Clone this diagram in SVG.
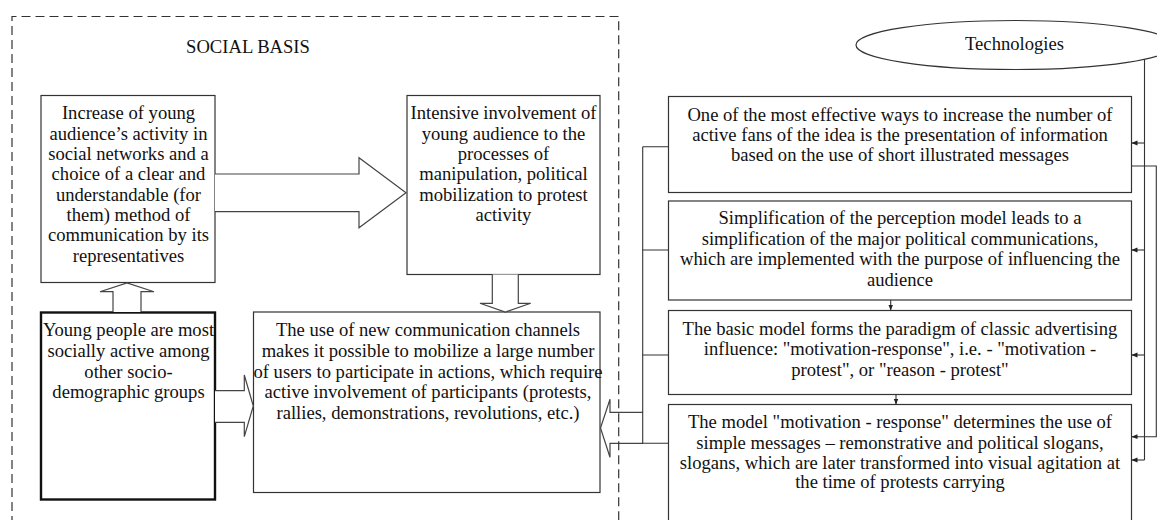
<svg xmlns="http://www.w3.org/2000/svg" width="1157" height="520" viewBox="0 0 1157 520">
<style>
.bg{fill:#ffffff}
.box{fill:#ffffff;stroke:#333333;stroke-width:1.2}
.thick{fill:#ffffff;stroke:#111111;stroke-width:2.4}
.dash{fill:none;stroke:#333333;stroke-width:1.2;stroke-dasharray:9 5}
.blk{fill:#ffffff;stroke:#444444;stroke-width:1.2;stroke-linejoin:miter}
.ln{fill:none;stroke:#333333;stroke-width:1.1}
.ar{fill:none;stroke:#333333;stroke-width:1.1;marker-end:url(#ah)}
text{font-family:"Liberation Serif","Times New Roman",serif;font-size:18.6px;fill:#111111}
.c{text-anchor:middle}
</style>
<defs>
<marker id="ah" viewBox="0 0 6 6" refX="6" refY="3" markerWidth="6" markerHeight="6" markerUnits="userSpaceOnUse" orient="auto">
<path d="M0,0.6 L6,3 L0,5.4 z" fill="#222222"/>
</marker>
</defs>
<rect class="bg" x="0" y="0" width="1157" height="520"/>

<g id="social-basis">
<text class="c" x="248" y="53">SOCIAL BASIS</text>
</g>

<g id="node-increase">
<rect class="box" x="41" y="95.5" width="174" height="187"/>
<text class="c" x="128.5" y="119">Increase of young</text>
<text class="c" x="128.5" y="139.5">audience’s activity in</text>
<text class="c" x="128.5" y="160">social networks and a</text>
<text class="c" x="128.5" y="180">choice of a clear and</text>
<text class="c" x="128.5" y="200.5">understandable (for</text>
<text class="c" x="128.5" y="221">them) method of</text>
<text class="c" x="128.5" y="241">communication by its</text>
<text class="c" x="128.5" y="261.5">representatives</text>
</g>

<g id="node-intensive">
<rect class="box" x="407" y="95.5" width="193" height="179"/>
<text class="c" x="503.5" y="119">Intensive involvement of</text>
<text class="c" x="503.5" y="139.5">young audience to the</text>
<text class="c" x="503.5" y="160">processes of</text>
<text class="c" x="503.5" y="180">manipulation, political</text>
<text class="c" x="503.5" y="200.5">mobilization to protest</text>
<text class="c" x="503.5" y="221">activity</text>
</g>

<g id="node-young">
<rect class="thick" x="41" y="312.5" width="174" height="187"/>
<text class="c" x="128.5" y="336">Young people are most</text>
<text class="c" x="128.5" y="357">socially active among</text>
<text class="c" x="128.5" y="378">other socio-</text>
<text class="c" x="128.5" y="398">demographic groups</text>
</g>

<g id="node-channels">
<rect class="box" x="253.5" y="312" width="346.5" height="180.5"/>
<text class="c" x="428" y="336">The use of new communication channels</text>
<text class="c" x="428" y="357">makes it possible to mobilize a large number</text>
<text class="c" x="428" y="378">of users to participate in actions, which require</text>
<text class="c" x="428" y="398">active involvement of participants (protests,</text>
<text class="c" x="428" y="419">rallies, demonstrations, revolutions, etc.)</text>
</g>

<g id="node-technologies">
<ellipse class="box" cx="1015" cy="45" rx="159" ry="24.5"/>
<text class="c" x="1014.5" y="50">Technologies</text>
</g>

<g id="node-effective">
<rect class="box" x="668.5" y="96.5" width="463" height="96"/>
<text class="c" x="900" y="120.5">One of the most effective ways to increase the number of</text>
<text class="c" x="900" y="140.5">active fans of the idea is the presentation of information</text>
<text class="c" x="900" y="161">based on the use of short illustrated messages</text>
</g>

<g id="node-simplification">
<rect class="box" x="668.5" y="201" width="463" height="99"/>
<text class="c" x="900" y="224">Simplification of the perception model leads to a</text>
<text class="c" x="900" y="245">simplification of the major political communications,</text>
<text class="c" x="900" y="265">which are implemented with the purpose of influencing the</text>
<text class="c" x="900" y="286">audience</text>
</g>

<g id="node-basic-model">
<rect class="box" x="668.5" y="310.5" width="463" height="84"/>
<text class="c" x="900" y="335">The basic model forms the paradigm of classic advertising</text>
<text class="c" x="900" y="355">influence: "motivation-response", i.e. - "motivation -</text>
<text class="c" x="900" y="375.5">protest", or "reason - protest"</text>
</g>

<g id="node-motivation-response">
<rect class="box" x="668.5" y="404.5" width="463" height="140"/>
<text class="c" x="900" y="428">The model "motivation - response" determines the use of</text>
<text class="c" x="900" y="449">simple messages – remonstrative and political slogans,</text>
<text class="c" x="900" y="469">slogans, which are later transformed into visual agitation at</text>
<text class="c" x="900" y="488">the time of protests carrying</text>
</g>

<g id="connectors">
<path class="blk" d="M215,174 H359 V157.7 L406,192.7 L359,227.7 V211.7 H215"/>
<path class="blk" d="M113,312 V291.7 H100 L127,283 L154,291.7 H141 V312"/>
<path class="blk" d="M492.3,274.5 V303.3 H480 L505.3,312 L530.7,303.3 H518.3 V274.5"/>
<path class="blk" d="M215,390.7 H244.3 V375 L253.3,406 L244.3,436.7 V422.3 H215"/>
<path class="blk" d="M643,412.3 H610 V399.3 L600.5,428 L610,457.3 V443.3 H643"/>
<path class="ln" d="M642.7,146.7 V443.3"/>
<path class="ln" d="M642.7,146.7 H668.5 M642.7,250 H668.5 M642.7,355 H668.5 M642.7,443.3 H668.5"/>
<path class="ln" d="M1144.5,59 V460"/>
<path class="ar" d="M1144.5,143 H1131.5"/>
<path class="ar" d="M1144.5,250 H1131.5"/>
<path class="ar" d="M1144.5,355 H1131.5"/>
<path class="ar" d="M1144.5,460 H1131.5"/>
<path class="ar" d="M1131.5,166 H1156.3 V436.7 H1131.5"/>
<path class="ar" d="M890.7,300 V310.5"/>
<path class="ar" d="M896,394.5 V404.5"/>
</g>

<path class="dash" d="M12,525 V16.5 H618.7 V525"/>
</svg>
